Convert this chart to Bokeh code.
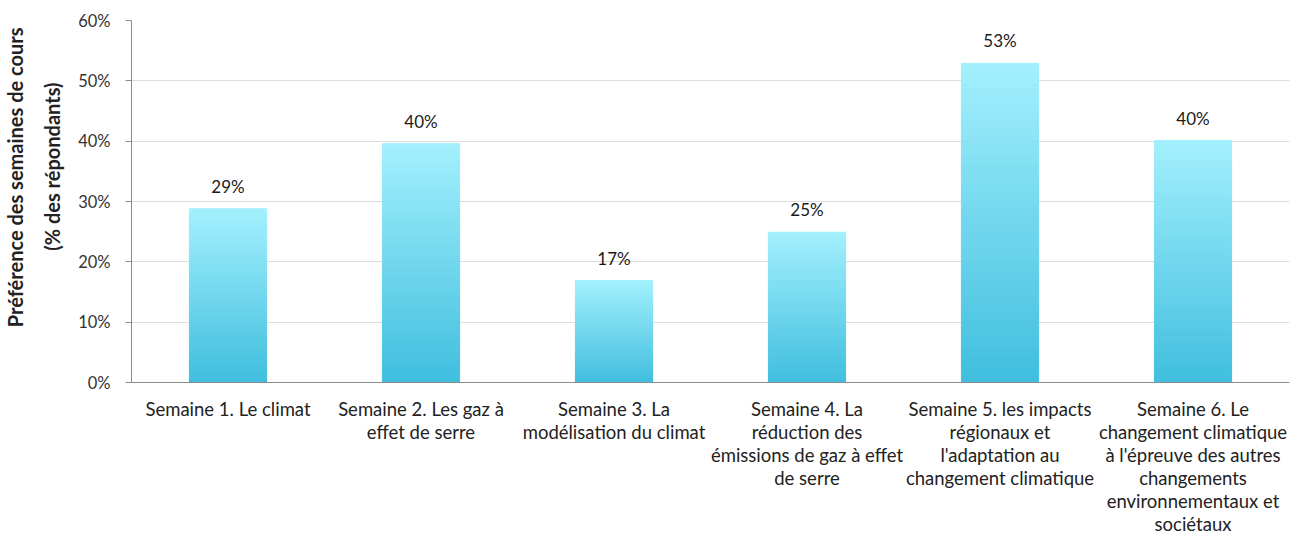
from bokeh.plotting import figure
from bokeh.models import ColumnDataSource, FixedTicker, NumeralTickFormatter, Title
from bokeh.embed import file_html
from bokeh.resources import INLINE
from bokeh.core.properties import value

categories = [
    "Semaine 1. Le climat",
    "Semaine 2. Les gaz à\neffet de serre",
    "Semaine 3. La\nmodélisation du climat",
    "Semaine 4. La\nréduction des\némissions de gaz à effet\nde serre",
    "Semaine 5. les impacts\nrégionaux et\nl'adaptation au\nchangement climatique",
    "Semaine 6. Le\nchangement climatique\nà l'épreuve des autres\nchangements\nenvironnementaux et\nsociétaux",
]
values = [28.8, 39.6, 16.9, 24.9, 52.9, 40.1]
labels = ["29%", "40%", "17%", "25%", "53%", "40%"]
y_ticks = [0, 10, 20, 30, 40, 50, 60]
y_title_lines = ["Préférence des semaines de cours", "(% des répondants)"]

FONT = "Lato"

p = figure(width=1298, height=538, x_range=categories, y_range=(0, 60),
           output_backend="svg", toolbar_location=None,
           min_border_left=10, min_border_right=9, min_border_top=20,
           min_border_bottom=10)
p.outline_line_color = None

# gradient bars: stacked thin slices, light at top, dark at bottom
N = 80
bot_rgb = (64, 190, 222)
top_rgb = (163, 240, 253)
xs, bottoms, tops, colors = [], [], [], []
for cat, v in zip(categories, values):
    for i in range(N):
        f0, f1 = i / N, (i + 1) / N
        t = (i + 0.5) / N
        c = tuple(int(round(b + (tp - b) * t)) for b, tp in zip(bot_rgb, top_rgb))
        xs.append(cat)
        bottoms.append(v * f0)
        tops.append(v * f1)
        colors.append("#%02x%02x%02x" % c)
src = ColumnDataSource(dict(x=xs, bottom=bottoms, top=tops, color=colors))
p.vbar(x="x", bottom="bottom", top="top", width=0.4, source=src,
       fill_color="color", line_color="color", line_width=1)

lsrc = ColumnDataSource(dict(x=categories, y=values, t=labels))
p.text(x="x", y="y", text="t", source=lsrc, text_align="center",
       text_baseline="bottom", y_offset=-12, text_font=value(FONT),
       text_font_size="17px", text_color="#1a1a1a")

p.yaxis.ticker = FixedTicker(ticks=y_ticks)
p.yaxis.formatter = NumeralTickFormatter(format="0")
p.yaxis.major_label_overrides = {t: f"{t}%" for t in y_ticks}
p.yaxis.major_label_text_font = FONT
p.yaxis.major_label_text_font_size = "16.5px"
p.yaxis.major_label_text_color = "#333333"
p.yaxis.major_label_standoff = 15
p.yaxis.major_tick_out = 6
p.yaxis.major_tick_in = 0
p.yaxis.minor_tick_line_color = None
p.yaxis.axis_line_color = "#8c8c8c"
p.yaxis.major_tick_line_color = "#8c8c8c"

# y-axis title as two left-side titles (closest line added first)
for line, so, off in zip(reversed(y_title_lines), [23, 0], [62, 7]):
    p.add_layout(Title(text=line, align="right", offset=off, standoff=so,
                       text_font=FONT, text_font_style="bold",
                       text_font_size="20px", text_color="#222222"), "left")

p.xaxis.major_label_text_font = FONT
p.xaxis.major_label_text_font_size = "18.5px"
p.xaxis.major_label_text_line_height = 1.05
p.xaxis.major_label_text_color = "#222222"
p.xaxis.major_label_standoff = 9
p.xaxis.major_tick_line_color = None
p.xaxis.axis_line_color = "#8c8c8c"

p.xgrid.grid_line_color = None
p.ygrid.grid_line_color = "#dddddd"
p.ygrid.grid_line_width = 1

open("out.html", "w").write(file_html(p, INLINE))
